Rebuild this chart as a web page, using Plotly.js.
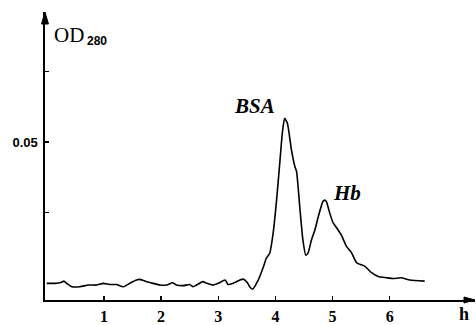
<!DOCTYPE html>
<html>
<head>
<meta charset="utf-8">
<script src="https://cdn.plot.ly/plotly-3.0.1.min.js"></script>
<style>html,body{margin:0;padding:0;background:#fff;}#chart{width:476px;height:325px;}</style>
</head>
<body>
<div id="chart"></div>
<script>
// elution time (h)
const timeH = [0.00,0.14,0.26,0.30,0.35,0.44,0.58,0.73,0.87,0.99,1.10,1.22,1.34,1.45,1.57,1.63,1.75,1.86,1.98,
  2.10,2.20,2.27,2.39,2.50,2.56,2.62,2.73,2.80,2.91,3.00,3.12,3.17,3.26,3.38,3.44,3.51,3.55,3.60,3.70,3.79,3.84,3.90,3.96,
  4.02,4.08,4.12,4.16,4.21,4.28,4.34,4.37,4.43,4.48,4.53,4.57,4.63,4.69,4.75,4.83,4.86,4.89,4.95,5.01,5.07,5.16,5.24,5.33,
  5.42,5.56,5.68,5.80,5.94,6.06,6.20,6.35,6.61];
// absorbance OD280
const od280 = [-0.0001,-0.0001,0.0003,0.0007,-0.0001,-0.0013,-0.0013,-0.0007,-0.0007,-0.0001,-0.0005,-0.0005,-0.0013,-0.0001,0.0011,0.0013,0.0005,-0.0001,-0.0007,
  -0.0007,0.0001,-0.0007,-0.0009,-0.0005,-0.0013,-0.0007,0.0005,-0.0001,-0.0007,-0.0001,0.0011,-0.0005,-0.0001,0.0011,0.0014,0.0001,-0.0013,-0.0022,0.0011,0.0058,0.0088,0.0106,0.0177,
  0.0294,0.0436,0.0531,0.0584,0.0566,0.0472,0.0413,0.0395,0.0259,0.0153,0.0099,0.0106,0.0153,0.0188,0.0236,0.0289,0.0294,0.0289,0.0248,0.0213,0.0196,0.0167,0.0131,0.0108,
  0.0072,0.0060,0.0037,0.0023,0.0019,0.0016,0.0019,0.0011,0.0007];
const xTicks = [1,2,3,4,5,6];
const xTickText = ['1','2','3','4','5','6'];
const yTicks = [0.025,0.05,0.075];
const yTickText = ['','0.05',''];
const peakLabels = ['BSA','Hb'];
const peakX = [3.63,5.26];
const peakY = [0.0627,0.0319];

const serif = 'Liberation Serif, Times New Roman, serif';
const sans = 'Liberation Sans, Arial, sans-serif';

const annotations = peakLabels.map((t,i)=>({
  text:t, x:peakX[i], y:peakY[i], xref:'x', yref:'y', showarrow:false,
  xanchor:'center', yanchor:'middle',
  font:{family:serif, size:21, color:'#000', style:'italic', weight:'bold'}
}));
annotations.push({text:'OD', xref:'paper', yref:'paper', x:0.0156, y:0.920, xanchor:'left', yanchor:'middle', showarrow:false,
  font:{family:serif, size:21, color:'#000'}});
annotations.push({text:'280', xref:'paper', yref:'paper', x:0.093, y:0.8976, xanchor:'left', yanchor:'middle', showarrow:false,
  font:{family:sans, size:12, color:'#000', weight:'bold'}});
annotations.push({text:'h', xref:'paper', yref:'paper', x:0.9744, y:-0.0868, xanchor:'center', yanchor:'bottom', showarrow:false,
  borderpad:0, font:{family:serif, size:18, color:'#000', weight:'bold'}});

const shapes = [
  {type:'path', xref:'paper', yref:'paper', path:'M 0 1 L -0.0081 0.9583 L 0.0081 0.9583 Z', fillcolor:'#000', line:{color:'#000', width:1}},
  {type:'path', xref:'paper', yref:'paper', path:'M 1 0 L 0.9744 0.0104 L 0.9744 -0.0104 Z', fillcolor:'#000', line:{color:'#000', width:1}}
];

const trace = {x:timeH, y:od280, type:'scatter', mode:'lines', line:{color:'#000', width:1.6, shape:'spline', smoothing:0.5}, hoverinfo:'skip'};

const layout = {
  width:476, height:325,
  margin:{l:45, r:1, t:12, b:25},
  paper_bgcolor:'#fff', plot_bgcolor:'#fff',
  showlegend:false,
  xaxis:{range:[-0.03,7.49], showgrid:false, zeroline:false, showline:true, linecolor:'#000', linewidth:1.6,
    tickvals:xTicks, ticktext:xTickText, ticks:'inside', ticklen:4, tickwidth:1.3, tickcolor:'#000',
    tickfont:{family:serif, size:16, color:'#000', weight:'bold'}, ticklabelstandoff:1},
  yaxis:{range:[-0.0060,0.0961], showgrid:false, zeroline:false, showline:true, linecolor:'#000', linewidth:1.6,
    tickvals:yTicks, ticktext:yTickText, ticks:'inside', ticklen:4, tickwidth:1.3, tickcolor:'#000',
    tickfont:{family:sans, size:13, color:'#000', weight:'bold'}, ticklabelstandoff:3},
  annotations:annotations,
  shapes:shapes
};
Plotly.newPlot('chart',[trace],layout,{staticPlot:true, displayModeBar:false});
</script>
</body>
</html>
